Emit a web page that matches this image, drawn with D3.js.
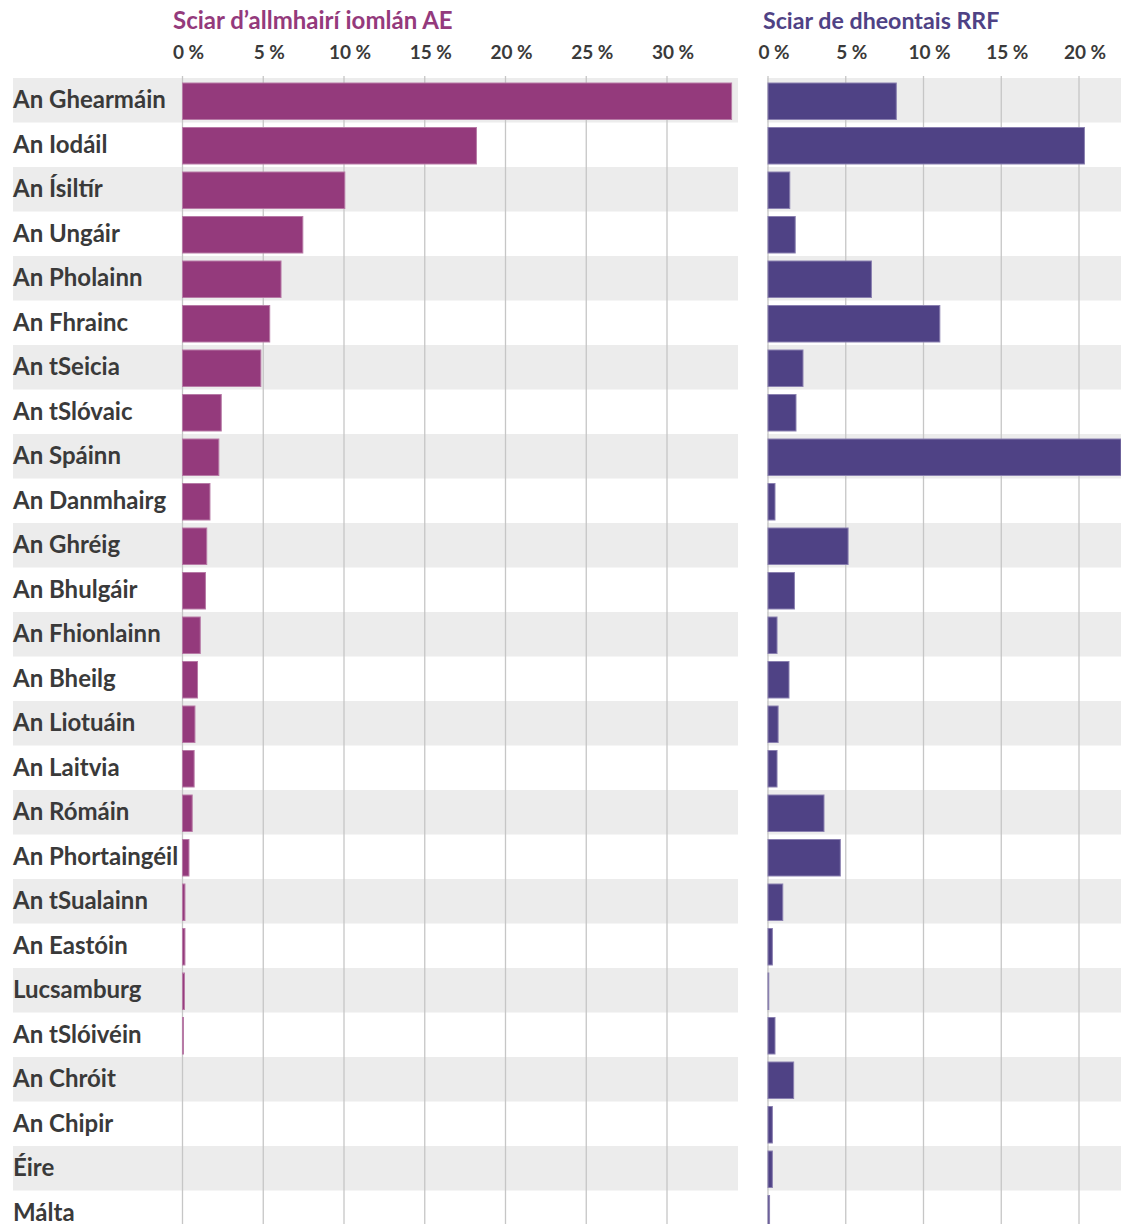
<!DOCTYPE html>
<html>
<head>
<meta charset="utf-8">
<script src="https://cdn.jsdelivr.net/npm/d3@7"></script>
<style>
  body { margin: 0; background: #fff; }
  text { font-family: Lato, "Open Sans", sans-serif; font-weight: bold; }
</style>
</head>
<body>
<script>
// countries, top to bottom
var countries = ["An Ghearmáin", "An Iodáil", "An Ísiltír", "An Ungáir", "An Pholainn",
  "An Fhrainc", "An tSeicia", "An tSlóvaic", "An Spáinn", "An Danmhairg", "An Ghréig",
  "An Bhulgáir", "An Fhionlainn", "An Bheilg", "An Liotuáin", "An Laitvia", "An Rómáin",
  "An Phortaingéil", "An tSualainn", "An Eastóin", "Lucsamburg", "An tSlóivéin",
  "An Chróit", "An Chipir", "Éire", "Málta"];

// share of total EU exports (%)
var exportShare = [34.0, 18.2, 10.05, 7.45, 6.1, 5.4, 4.85, 2.4, 2.25, 1.7, 1.5,
  1.42, 1.1, 0.93, 0.77, 0.72, 0.6, 0.4, 0.15, 0.15, 0.12, 0.06, 0, 0, 0, 0];

// share of RRF grants (%)
var rrfShare = [8.25, 20.35, 1.4, 1.75, 6.65, 11.05, 2.25, 1.8, 23.5, 0.45, 5.15,
  1.7, 0.58, 1.35, 0.65, 0.58, 3.6, 4.65, 0.95, 0.28, 0.05, 0.45, 1.65, 0.28, 0.28, 0.1];

var leftTicks = [0, 5, 10, 15, 20, 25, 30];
var rightTicks = [0, 5, 10, 15, 20];

var W = 1121, H = 1224;
var svg = d3.select("body").append("svg")
  .attr("width", W)
  .attr("height", H);

var rowH = 44.5, rowTop = 78;
var y = d3.scaleBand()
  .domain(countries)
  .range([rowTop, rowTop + rowH * countries.length]);

// one panel: stripes, grid, bars, ticks, title
function panel(opts) {
  var x = d3.scaleLinear().domain([0, 1]).range([opts.x0, opts.x0 + opts.pxPer]);
  var g = svg.append("g");

  g.selectAll(".stripe")
    .data(countries.filter(function(d, i) { return i % 2 == 0; }))
    .enter().append("rect")
    .attr("x", opts.stripeX)
    .attr("width", opts.stripeEnd - opts.stripeX)
    .attr("y", function(d) { return y(d); })
    .attr("height", y.bandwidth())
    .attr("fill", "#ececec");

  g.selectAll(".grid")
    .data(opts.ticks).enter()
    .append("line")
    .attr("x1", function(d) { return x(d); })
    .attr("x2", function(d) { return x(d); })
    .attr("y1", 76).attr("y2", H)
    .attr("stroke", "#c6c6c6")
    .attr("stroke-width", 1.3);

  g.selectAll(".bar")
    .data(opts.values).enter()
    .append("rect")
    .attr("x", x(0))
    .attr("y", function(d, i) { return y(countries[i]) + 5; })
    .attr("width", function(d) { return Math.max(0, Math.min(x(d), W) - x(0)); })
    .attr("height", y.bandwidth() - 8)
    .attr("fill", opts.color)
    .attr("stroke", opts.stroke)
    .attr("stroke-width", function(d) { return d > 0 ? 1 : 0; });

  g.selectAll(".tick")
    .data(opts.ticks).enter()
    .append("text")
    .attr("x", function(d) { return x(d) + 6; })
    .attr("y", 59)
    .attr("text-anchor", "middle")
    .attr("font-size", 19)
    .attr("fill", "#3a3a3a")
    .text(function(d) { return d + " %"; });

  g.append("text")
    .attr("x", opts.titleX)
    .attr("y", 29)
    .attr("font-size", opts.titleSize)
    .attr("fill", opts.color)
    .text(opts.title);
}

panel({
  x0: 182.5, pxPer: 16.15, stripeX: 13, stripeEnd: 738,
  values: exportShare, ticks: leftTicks,
  color: "#943a7c", stroke: "#b77aa6",
  title: "Sciar d’allmhairí iomlán AE", titleX: 173, titleSize: 24
});

panel({
  x0: 768, pxPer: 15.55, stripeX: 767, stripeEnd: W,
  values: rrfShare, ticks: rightTicks,
  color: "#4f4285", stroke: "#8a80b0",
  title: "Sciar de dheontais RRF", titleX: 763, titleSize: 23.2
});

// country labels
svg.append("g").selectAll("text")
  .data(countries).enter()
  .append("text")
  .attr("x", 13)
  .attr("y", function(d) { return y(d) + y.bandwidth() / 2 + 8; })
  .attr("font-size", 24)
  .attr("fill", "#3a3a3a")
  .text(function(d) { return d; });
</script>
</body>
</html>
